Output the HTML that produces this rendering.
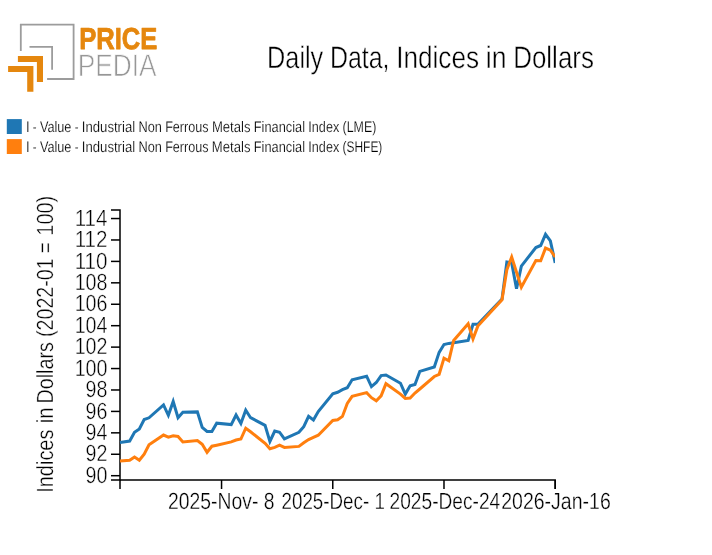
<!DOCTYPE html>
<html lang="en"><head><meta charset="utf-8"><title>Daily Data, Indices in Dollars</title>
<style>
html,body{margin:0;padding:0;background:#fff;}
body{width:712px;height:555px;overflow:hidden;}
svg{display:block;}
svg text{font-family:"Liberation Sans", sans-serif;font-weight:400;text-rendering:geometricPrecision;}
.ax line,.ax path{stroke:#000;stroke-width:1.5;fill:none;shape-rendering:auto}
.ax text{fill:#000}
</style></head>
<body>
<svg class="t" width="712" height="555" viewBox="0 0 712 555">
<rect width="712" height="555" fill="#fff"/>
<!-- logo -->
<g id="logo">
<path d="M20.8,51 V24.6 H73.6 V79 H47.1" fill="none" stroke="#9c9c9c" stroke-width="1.8"/>
<path d="M29.5,46.8 H52.1 V69.8" fill="none" stroke="#9c9c9c" stroke-width="1.8"/>
<path d="M17.9,56 H43 V82 H36.9 V62.1 H17.9 Z" fill="#e5870e"/>
<path d="M8.1,66 H33.4 V91.8 H27.2 V72.1 H8.1 Z" fill="#e5870e"/>
<text x="79.2" y="48.8" font-size="30.4" style="font-family:'Liberation Sans',sans-serif;font-weight:700" fill="#e5870e" stroke="#e5870e" stroke-width="0.8" stroke-linejoin="round" textLength="78.2" lengthAdjust="spacingAndGlyphs">PRICE</text>
<text x="77.7" y="75.9" font-size="31.2" style="font-family:'Liberation Sans',sans-serif;font-weight:400" fill="#979797" stroke="#fff" stroke-width="0.75" textLength="78.8" lengthAdjust="spacingAndGlyphs">PEDIA</text>
</g>
<text x="267.11" y="67.9" font-size="31.2" fill="#000" textLength="56.14" lengthAdjust="spacingAndGlyphs" stroke="#fff" stroke-width="0.45">Daily</text><text x="329.95" y="67.9" font-size="31.2" fill="#000" textLength="59.50" lengthAdjust="spacingAndGlyphs" stroke="#fff" stroke-width="0.45">Data,</text><text x="396.15" y="67.9" font-size="31.2" fill="#000" textLength="83.00" lengthAdjust="spacingAndGlyphs" stroke="#fff" stroke-width="0.45">Indices</text><text x="485.85" y="67.9" font-size="31.2" fill="#000" textLength="20.70" lengthAdjust="spacingAndGlyphs" stroke="#fff" stroke-width="0.45">in</text><text x="513.24" y="67.9" font-size="31.2" fill="#000" textLength="80.65" lengthAdjust="spacingAndGlyphs" stroke="#fff" stroke-width="0.45">Dollars</text>
<rect x="6.8" y="119.1" width="15" height="14.9" fill="#1f77b4"/>
<rect x="6.8" y="139.1" width="15" height="14.9" fill="#ff7f0e"/>
<text x="25.90" y="131.9" font-size="15.24" fill="#000" textLength="3.60" lengthAdjust="spacingAndGlyphs" stroke="#fff" stroke-width="0.2">I</text><text x="32.79" y="131.9" font-size="15.24" fill="#000" textLength="3.82" lengthAdjust="spacingAndGlyphs" stroke="#fff" stroke-width="0.2">-</text><text x="39.90" y="131.9" font-size="15.24" fill="#000" textLength="31.49" lengthAdjust="spacingAndGlyphs" stroke="#fff" stroke-width="0.2">Value</text><text x="74.69" y="131.9" font-size="15.24" fill="#000" textLength="3.82" lengthAdjust="spacingAndGlyphs" stroke="#fff" stroke-width="0.2">-</text><text x="81.80" y="131.9" font-size="15.24" fill="#000" textLength="53.37" lengthAdjust="spacingAndGlyphs" stroke="#fff" stroke-width="0.2">Industrial</text><text x="138.46" y="131.9" font-size="15.24" fill="#000" textLength="23.39" lengthAdjust="spacingAndGlyphs" stroke="#fff" stroke-width="0.2">Non</text><text x="165.16" y="131.9" font-size="15.24" fill="#000" textLength="43.44" lengthAdjust="spacingAndGlyphs" stroke="#fff" stroke-width="0.2">Ferrous</text><text x="211.89" y="131.9" font-size="15.24" fill="#000" textLength="38.62" lengthAdjust="spacingAndGlyphs" stroke="#fff" stroke-width="0.2">Metals</text><text x="253.80" y="131.9" font-size="15.24" fill="#000" textLength="51.25" lengthAdjust="spacingAndGlyphs" stroke="#fff" stroke-width="0.2">Financial</text><text x="308.34" y="131.9" font-size="15.24" fill="#000" textLength="30.92" lengthAdjust="spacingAndGlyphs" stroke="#fff" stroke-width="0.2">Index</text><text x="342.56" y="131.9" font-size="15.24" fill="#000" textLength="33.79" lengthAdjust="spacingAndGlyphs" stroke="#fff" stroke-width="0.2">(LME)</text>
<text x="25.90" y="151.9" font-size="15.24" fill="#000" textLength="3.60" lengthAdjust="spacingAndGlyphs" stroke="#fff" stroke-width="0.2">I</text><text x="32.79" y="151.9" font-size="15.24" fill="#000" textLength="3.82" lengthAdjust="spacingAndGlyphs" stroke="#fff" stroke-width="0.2">-</text><text x="39.90" y="151.9" font-size="15.24" fill="#000" textLength="31.49" lengthAdjust="spacingAndGlyphs" stroke="#fff" stroke-width="0.2">Value</text><text x="74.69" y="151.9" font-size="15.24" fill="#000" textLength="3.82" lengthAdjust="spacingAndGlyphs" stroke="#fff" stroke-width="0.2">-</text><text x="81.80" y="151.9" font-size="15.24" fill="#000" textLength="53.36" lengthAdjust="spacingAndGlyphs" stroke="#fff" stroke-width="0.2">Industrial</text><text x="138.45" y="151.9" font-size="15.24" fill="#000" textLength="23.39" lengthAdjust="spacingAndGlyphs" stroke="#fff" stroke-width="0.2">Non</text><text x="165.15" y="151.9" font-size="15.24" fill="#000" textLength="43.43" lengthAdjust="spacingAndGlyphs" stroke="#fff" stroke-width="0.2">Ferrous</text><text x="211.87" y="151.9" font-size="15.24" fill="#000" textLength="38.61" lengthAdjust="spacingAndGlyphs" stroke="#fff" stroke-width="0.2">Metals</text><text x="253.78" y="151.9" font-size="15.24" fill="#000" textLength="51.25" lengthAdjust="spacingAndGlyphs" stroke="#fff" stroke-width="0.2">Financial</text><text x="308.32" y="151.9" font-size="15.24" fill="#000" textLength="30.92" lengthAdjust="spacingAndGlyphs" stroke="#fff" stroke-width="0.2">Index</text><text x="342.53" y="151.9" font-size="15.24" fill="#000" textLength="39.84" lengthAdjust="spacingAndGlyphs" stroke="#fff" stroke-width="0.2">(SHFE)</text>
<g class="ax">
<path d="M111,210 H120 V480 H111"/>
<line x1="111" x2="120" y1="475.70" y2="475.70"/><line x1="111" x2="120" y1="454.27" y2="454.27"/><line x1="111" x2="120" y1="432.84" y2="432.84"/><line x1="111" x2="120" y1="411.41" y2="411.41"/><line x1="111" x2="120" y1="389.98" y2="389.98"/><line x1="111" x2="120" y1="368.55" y2="368.55"/><line x1="111" x2="120" y1="347.12" y2="347.12"/><line x1="111" x2="120" y1="325.69" y2="325.69"/><line x1="111" x2="120" y1="304.26" y2="304.26"/><line x1="111" x2="120" y1="282.83" y2="282.83"/><line x1="111" x2="120" y1="261.40" y2="261.40"/><line x1="111" x2="120" y1="239.97" y2="239.97"/><line x1="111" x2="120" y1="218.54" y2="218.54"/>
<path d="M120,489 V480 H555.2 V489"/>
<line x1="221.55" x2="221.55" y1="480" y2="489"/><line x1="332.77" x2="332.77" y1="480" y2="489"/><line x1="443.99" x2="443.99" y1="480" y2="489"/><line x1="555.20" x2="555.20" y1="480" y2="489"/>
<text x="107.5" y="483" font-size="23.4" text-anchor="end" fill="#000" textLength="21.89" lengthAdjust="spacingAndGlyphs" stroke="#fff" stroke-width="0.42" >90</text><text x="107.5" y="461" font-size="23.4" text-anchor="end" fill="#000" textLength="21.89" lengthAdjust="spacingAndGlyphs" stroke="#fff" stroke-width="0.42" >92</text><text x="107.5" y="440" font-size="23.4" text-anchor="end" fill="#000" textLength="21.89" lengthAdjust="spacingAndGlyphs" stroke="#fff" stroke-width="0.42" >94</text><text x="107.5" y="419" font-size="23.4" text-anchor="end" fill="#000" textLength="21.89" lengthAdjust="spacingAndGlyphs" stroke="#fff" stroke-width="0.42" >96</text><text x="107.5" y="397" font-size="23.4" text-anchor="end" fill="#000" textLength="21.89" lengthAdjust="spacingAndGlyphs" stroke="#fff" stroke-width="0.42" >98</text><text x="107.5" y="376" font-size="23.4" text-anchor="end" fill="#000" textLength="32.83" lengthAdjust="spacingAndGlyphs" stroke="#fff" stroke-width="0.42" >100</text><text x="107.5" y="354" font-size="23.4" text-anchor="end" fill="#000" textLength="32.83" lengthAdjust="spacingAndGlyphs" stroke="#fff" stroke-width="0.42" >102</text><text x="107.5" y="333" font-size="23.4" text-anchor="end" fill="#000" textLength="32.83" lengthAdjust="spacingAndGlyphs" stroke="#fff" stroke-width="0.42" >104</text><text x="107.5" y="311" font-size="23.4" text-anchor="end" fill="#000" textLength="32.83" lengthAdjust="spacingAndGlyphs" stroke="#fff" stroke-width="0.42" >106</text><text x="107.5" y="290" font-size="23.4" text-anchor="end" fill="#000" textLength="32.83" lengthAdjust="spacingAndGlyphs" stroke="#fff" stroke-width="0.42" >108</text><text x="107.5" y="269" font-size="23.4" text-anchor="end" fill="#000" textLength="32.83" lengthAdjust="spacingAndGlyphs" stroke="#fff" stroke-width="0.42" >110</text><text x="107.5" y="247" font-size="23.4" text-anchor="end" fill="#000" textLength="32.83" lengthAdjust="spacingAndGlyphs" stroke="#fff" stroke-width="0.42" >112</text><text x="107.5" y="226" font-size="23.4" text-anchor="end" fill="#000" textLength="32.83" lengthAdjust="spacingAndGlyphs" stroke="#fff" stroke-width="0.42" >114</text>
<text x="221.25" y="508.7" font-size="23.4" text-anchor="middle" fill="#000" textLength="106.4" lengthAdjust="spacingAndGlyphs" stroke="#fff" stroke-width="0.32" xml:space="preserve">2025-Nov- 8</text><text x="333.17" y="508.7" font-size="23.4" text-anchor="middle" fill="#000" textLength="103.33" lengthAdjust="spacingAndGlyphs" stroke="#fff" stroke-width="0.32" xml:space="preserve">2025-Dec- 1</text><text x="444.89" y="508.7" font-size="23.4" text-anchor="middle" fill="#000" textLength="110.63" lengthAdjust="spacingAndGlyphs" stroke="#fff" stroke-width="0.32" xml:space="preserve">2025-Dec-24</text><text x="556.00" y="508.7" font-size="23.4" text-anchor="middle" fill="#000" textLength="109.58" lengthAdjust="spacingAndGlyphs" stroke="#fff" stroke-width="0.32" xml:space="preserve">2026-Jan-16</text>
<g transform="translate(52.8,345) rotate(-90)"><text x="-147.81" y="0" font-size="23.4" fill="#000" textLength="63.24" lengthAdjust="spacingAndGlyphs" stroke="#fff" stroke-width="0.38">Indices</text><text x="-78.27" y="0" font-size="23.4" fill="#000" textLength="15.78" lengthAdjust="spacingAndGlyphs" stroke="#fff" stroke-width="0.38">in</text><text x="-58.61" y="0" font-size="23.4" fill="#000" textLength="61.44" lengthAdjust="spacingAndGlyphs" stroke="#fff" stroke-width="0.38">Dollars</text><text x="7.94" y="0" font-size="23.4" fill="#000" textLength="78.78" lengthAdjust="spacingAndGlyphs" stroke="#fff" stroke-width="0.38">(2022-01</text><text x="91.82" y="0" font-size="23.4" fill="#000" textLength="10.99" lengthAdjust="spacingAndGlyphs" stroke="#fff" stroke-width="0.38">=</text><text x="109.31" y="0" font-size="23.4" fill="#000" textLength="39.90" lengthAdjust="spacingAndGlyphs" stroke="#fff" stroke-width="0.38">100)</text></g>
</g>
<clipPath id="clip"><rect x="119" y="200" width="436" height="285"/></clipPath>
<g fill="none" stroke-width="3" stroke-linejoin="miter" clip-path="url(#clip)">
<path d="M120.00,442.40L129.67,441.00L134.51,432.20L139.34,428.90L144.18,419.50L149.01,417.80L163.52,404.90L168.36,415.30L173.19,401.50L178.03,417.80L182.86,412.30L197.37,411.90L202.21,427.50L207.04,431.50L211.88,431.50L216.71,423.20L231.22,424.60L236.05,415.00L240.89,423.40L245.73,410.20L250.56,417.70L265.07,425.30L269.90,441.50L274.74,431.00L279.57,432.20L284.41,438.90L298.92,432.30L303.75,426.60L308.59,416.40L313.42,420.00L318.26,411.50L332.77,393.80L337.60,392.30L342.44,389.70L347.27,387.70L352.11,379.80L366.62,376.20L371.45,386.60L376.29,382.50L381.12,375.60L385.96,375.00L400.46,383.20L405.30,394.10L410.14,385.80L414.97,384.40L419.81,371.40L434.31,367.00L439.15,352.40L443.99,344.50L448.82,343.40L453.66,342.70L468.16,340.50L473.00,324.20L477.83,324.20L502.01,299.10L506.85,262.00L511.68,263.00L516.52,288.70L521.35,266.10L535.86,247.50L540.70,245.50L545.53,234.30L550.37,240.90L555.20,263.00" stroke="#1f77b4"/>
<path d="M120.00,460.90L129.67,460.20L134.51,457.00L139.34,460.20L144.18,454.10L149.01,444.80L163.52,435.00L168.36,437.10L173.19,435.70L178.03,436.40L182.86,441.90L197.37,440.50L202.21,444.30L207.04,452.30L211.88,446.20L216.71,445.20L231.22,441.90L236.05,440.00L240.89,439.00L245.73,428.20L250.56,431.80L265.07,443.30L269.90,448.70L274.74,447.40L279.57,445.20L284.41,447.40L298.92,446.40L303.75,442.80L308.59,439.60L313.42,437.30L318.26,435.20L332.77,420.50L337.60,419.70L342.44,416.40L347.27,403.40L352.11,396.40L366.62,392.60L371.45,397.70L376.29,400.80L381.12,395.90L385.96,383.70L400.46,394.10L405.30,398.40L410.14,398.10L414.97,393.00L419.81,389.00L434.31,376.50L439.15,374.30L443.99,358.10L448.82,360.70L453.66,340.50L468.16,323.80L473.00,338.90L477.83,326.10L502.01,299.70L506.85,269.70L511.68,257.00L516.52,272.20L521.35,287.30L535.86,260.50L540.70,260.80L545.53,248.10L550.37,250.20L555.20,257.00" stroke="#ff7f0e"/>
</g>
</svg>
</body></html>
